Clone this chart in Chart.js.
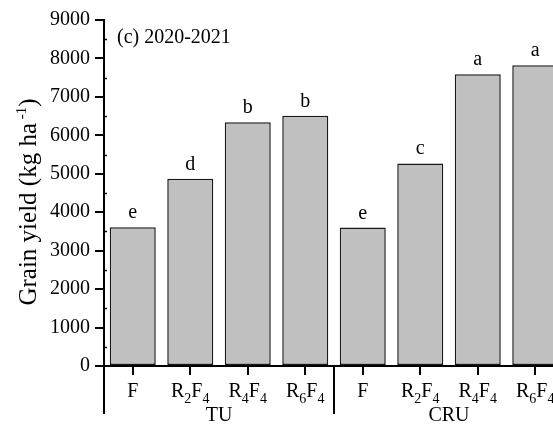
<!DOCTYPE html>
<html>
<head>
<meta charset="utf-8">
<script src="https://cdn.jsdelivr.net/npm/chart.js@4"></script>
<style>
  html, body { margin: 0; padding: 0; background: #ffffff; overflow: hidden; }
  #wrap { position: absolute; left: 0; top: 0; width: 580px; height: 426px; }
</style>
</head>
<body>
<div id="wrap"><canvas id="chart" width="580" height="426"></canvas></div>
<script>
// Grain yield per treatment, 2020-2021 season
const treatments = [
  { main: 'F', sub1: '', mid: '', sub2: '' },
  { main: 'R', sub1: '2', mid: 'F', sub2: '4' },
  { main: 'R', sub1: '4', mid: 'F', sub2: '4' },
  { main: 'R', sub1: '6', mid: 'F', sub2: '4' },
  { main: 'F', sub1: '', mid: '', sub2: '' },
  { main: 'R', sub1: '2', mid: 'F', sub2: '4' },
  { main: 'R', sub1: '4', mid: 'F', sub2: '4' },
  { main: 'R', sub1: '6', mid: 'F', sub2: '4' }
];
const categories = ['F', 'R2F4', 'R4F4', 'R6F4', 'F', 'R2F4', 'R4F4', 'R6F4'];
const grainYield = [3610, 4870, 6340, 6510, 3600, 5270, 7590, 7820];
const significance = ['e', 'd', 'b', 'b', 'e', 'c', 'a', 'a'];
const groups = ['TU', 'CRU'];
const groupSize = 4;
const yTicks = [0, 1000, 2000, 3000, 4000, 5000, 6000, 7000, 8000, 9000];
const panelTitle = '(c) 2020-2021';

const SERIF = '"Liberation Serif", "Times New Roman", serif';
const FS = 20;

const annotate = {
  id: 'annotate',
  afterDraw(chart) {
    const ctx = chart.ctx;
    const x = chart.scales.x, y = chart.scales.y;
    const area = chart.chartArea;
    ctx.save();
    ctx.fillStyle = '#000';
    ctx.strokeStyle = '#000';

    // minor ticks on the y axis, pointing inward
    ctx.lineWidth = 1.5;
    for (let i = 0; i < yTicks.length - 1; i++) {
      const v = (yTicks[i] + yTicks[i + 1]) / 2;
      const py = Math.round(y.getPixelForValue(v)) + 0.5;
      ctx.beginPath();
      ctx.moveTo(area.left, py);
      ctx.lineTo(area.left + 3, py);
      ctx.stroke();
    }

    // significance letters above bars
    ctx.font = FS + 'px ' + SERIF;
    ctx.textAlign = 'center';
    ctx.textBaseline = 'alphabetic';
    const bars = chart.getDatasetMeta(0).data;
    bars.forEach((b, i) => {
      ctx.fillText(significance[i], b.x, b.y - 9);
    });

    // treatment labels with subscripts
    const baseY = area.bottom + 31;
    const subFont = '14px ' + SERIF;
    const mainFont = FS + 'px ' + SERIF;
    treatments.forEach((t, i) => {
      const cx = x.getPixelForValue(i);
      const parts = [
        { s: t.main, f: mainFont, dy: 0 },
        { s: t.sub1, f: subFont, dy: 6 },
        { s: t.mid, f: mainFont, dy: 0 },
        { s: t.sub2, f: subFont, dy: 6 }
      ].filter(p => p.s);
      let w = 0;
      parts.forEach(p => { ctx.font = p.f; p.w = ctx.measureText(p.s).width; w += p.w; });
      let px = cx - w / 2;
      ctx.textAlign = 'left';
      parts.forEach(p => {
        ctx.font = p.f;
        ctx.fillText(p.s, px, baseY + p.dy);
        px += p.w;
      });
    });

    // group names and separators below the axis
    ctx.font = mainFont;
    ctx.textAlign = 'center';
    ctx.lineWidth = 2;
    groups.forEach((g, gi) => {
      const first = gi * groupSize, last = first + groupSize - 1;
      const cx = (x.getPixelForValue(first) + x.getPixelForValue(last)) / 2;
      ctx.fillText(g, cx, area.bottom + 55);
    });
    const step = x.getPixelForValue(1) - x.getPixelForValue(0);
    for (let gi = 0; gi <= groups.length; gi++) {
      const sx = Math.round(x.getPixelForValue(gi * groupSize) - step / 2);
      ctx.beginPath();
      ctx.moveTo(sx, area.bottom);
      ctx.lineTo(sx, area.bottom + 48);
      ctx.stroke();
    }

    // panel title
    ctx.textAlign = 'left';
    ctx.font = mainFont;
    ctx.fillText(panelTitle, 117, 43);

    // y axis title with superscript
    ctx.save();
    ctx.translate(36, 202);
    ctx.rotate(-Math.PI / 2);
    const tParts = [
      { s: 'Grain yield (kg ha', f: '25px ' + SERIF, dy: 0 },
      { s: ' -1', f: '15px ' + SERIF, dy: -10 },
      { s: ')', f: '25px ' + SERIF, dy: 0 }
    ];
    let tw = 0;
    tParts.forEach(p => { ctx.font = p.f; p.w = ctx.measureText(p.s).width; tw += p.w; });
    let tx = -tw / 2;
    ctx.textAlign = 'left';
    tParts.forEach(p => {
      ctx.font = p.f;
      ctx.fillText(p.s, tx, p.dy);
      tx += p.w;
    });
    ctx.restore();

    ctx.restore();
  }
};

new Chart(document.getElementById('chart'), {
  type: 'bar',
  data: {
    labels: categories,
    datasets: [{
      data: grainYield,
      backgroundColor: '#c0c0c0',
      borderColor: '#1a1a1a',
      borderWidth: 1.5,
      borderSkipped: false,
      barPercentage: 0.8,
      categoryPercentage: 1.0
    }]
  },
  options: {
    responsive: false,
    animation: false,
    layout: { padding: { left: 0, top: 20, right: 16, bottom: 0 } },
    plugins: { legend: { display: false }, tooltip: { enabled: false } },
    scales: {
      x: {
        offset: true,
        grid: { offset: false, drawOnChartArea: false, drawTicks: true, tickLength: 9, color: '#000', lineWidth: 2 },
        border: { display: true, color: '#000', width: 2 },
        ticks: { display: false },
        afterFit(scale) { scale.height = 60; }
      },
      y: {
        min: 0,
        max: 9000,
        afterBuildTicks(scale) { scale.ticks = yTicks.map(v => ({ value: v })); },
        grid: { drawOnChartArea: false, drawTicks: true, tickLength: 9, color: '#000', lineWidth: 2 },
        border: { display: true, color: '#000', width: 2 },
        ticks: {
          color: '#000',
          padding: 5,
          font: { family: SERIF, size: FS },
          callback: (v) => String(v)
        },
        afterFit(scale) { scale.width = 104; }
      }
    }
  },
  plugins: [annotate]
});
</script>
</body>
</html>
